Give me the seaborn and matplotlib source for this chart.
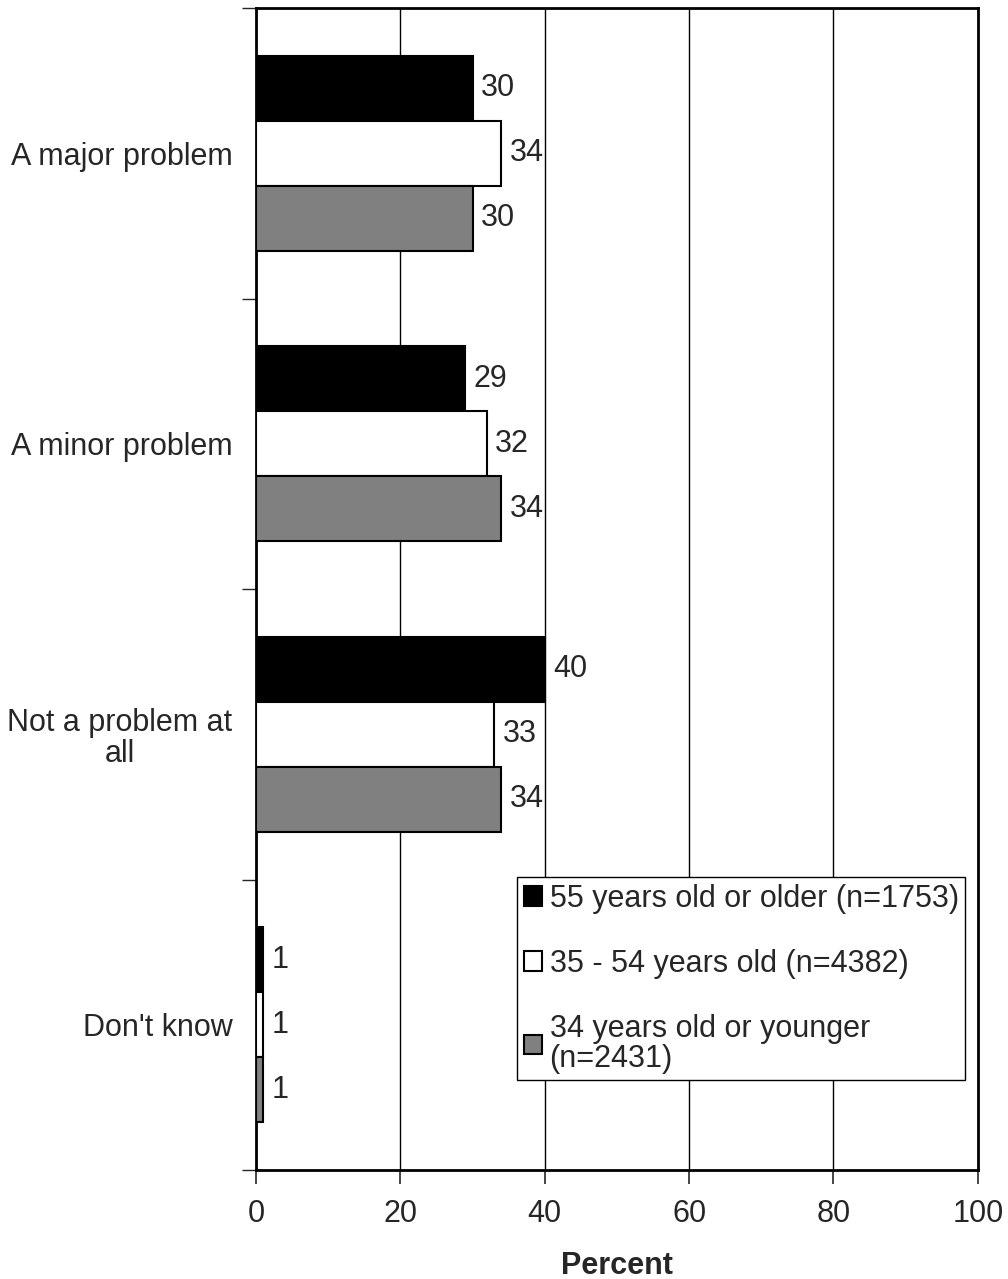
import pandas as pd
import numpy as np
import matplotlib.pyplot as plt
import seaborn as sns

# --- data ---
categories = ['A major problem', 'A minor problem', 'Not a problem at\nall', "Don't know"]
series = ['55 years old or older (n=1753)', '35 - 54 years old (n=4382)',
          '34 years old or younger\n(n=2431)']
older = [30, 29, 40, 1]
middle = [34, 32, 33, 1]
younger = [30, 34, 34, 1]

df = pd.DataFrame({
    'Category': categories * 3,
    'Group': [series[0]] * 4 + [series[1]] * 4 + [series[2]] * 4,
    'Percent': older + middle + younger,
})

sns.set_style("white")
plt.rcParams['font.family'] = ['Liberation Sans', 'DejaVu Sans']
FS = 22

fig = plt.figure(figsize=(10.08, 12.79), dpi=100)
ax = fig.add_axes([0.254, 0.0852, 0.716, 0.9085])

palette = {series[0]: '#000000', series[1]: '#ffffff', series[2]: '#808080'}
sns.barplot(data=df, y='Category', x='Percent', hue='Group', order=categories,
            hue_order=series, palette=palette, orient='h', width=0.67, gap=0,
            edgecolor='black', linewidth=1.5, saturation=1, ax=ax, zorder=3)

for cont in ax.containers:
    ax.bar_label(cont, fmt='%d', padding=6, fontsize=FS)

ax.set_xlim(0, 100)
ax.set_ylim(3.5, -0.5)
ax.set_xticks([0, 20, 40, 60, 80, 100])
ax.xaxis.grid(True, color='black', linewidth=1, zorder=0)
ax.set_axisbelow(True)
ax.tick_params(axis='x', labelsize=FS, length=10, width=1.2, direction='out', pad=11, bottom=True)
ax.tick_params(axis='y', which='major', labelsize=FS, length=0, pad=17)
ax.set_yticks([-0.5, 0.5, 1.5, 2.5, 3.5], minor=True)
ax.tick_params(axis='y', which='minor', length=10, width=1, direction='out', left=True)
for lbl in ax.get_yticklabels():
    lbl.set_horizontalalignment('right')
    lbl.set_multialignment('center')
    lbl.set_linespacing(1.05)

for s in ax.spines.values():
    s.set_visible(True)
    s.set_color('black')
    s.set_linewidth(2)

ax.set_ylabel('')
ax.set_xlabel('Percent', fontsize=FS, fontweight='bold', labelpad=16)

leg = ax.legend(loc='lower right', bbox_to_anchor=(0.982, 0.0775), fontsize=FS,
                frameon=True, fancybox=False, framealpha=1, edgecolor='black',
                handlelength=0.6, handleheight=0.6, handletextpad=0.25,
                labelspacing=1.15, borderpad=0.2, borderaxespad=0)
leg.get_frame().set_linewidth(1)
for t in leg.get_texts():
    t.set_linespacing(1.0)

plt.savefig('out.png', dpi=100)
